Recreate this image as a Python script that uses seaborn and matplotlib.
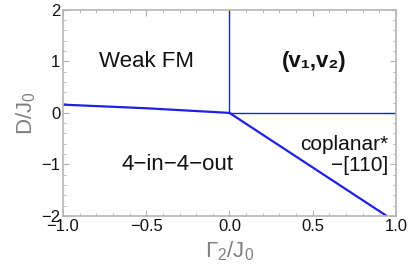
import matplotlib

matplotlib.use('Agg')
import matplotlib.pyplot as plt
import numpy as np
import pandas as pd
import seaborn as sns
from matplotlib.ticker import MultipleLocator

# phase boundaries
left_x = [-1.0, -0.5, 0.0]
left_y = [0.16, 0.09, 0.0]
diag_x = [0.0, 0.944]
diag_y = [0.0, -2.0]
vert_x = [0.0, 0.0]
vert_y = [0.0, 2.0]
horiz_x = [0.0, 1.0]
horiz_y = [0.0, 0.0]

# region labels
labels = ['Weak FM', '(v₁,v₂)', '4\u2212in\u22124\u2212out', 'coplanar*', '\u2212[110]']
label_x = [-0.5, 0.51, -0.31, 0.955, 0.955]
label_y = [1.0, 1.0, -1.0, -0.62, -1.02]

sns.set_style('ticks')
plt.rcParams['font.family'] = ['Liberation Sans', 'DejaVu Sans']
plt.rcParams['mathtext.fontset'] = 'custom'
plt.rcParams['mathtext.rm'] = 'Liberation Sans'
plt.rcParams['mathtext.it'] = 'Liberation Sans'
plt.rcParams['mathtext.default'] = 'regular'

blue = '#1f1fe8'
fig = plt.figure(figsize=(4.09, 2.75), dpi=100)
ax = fig.add_axes([0.154, 0.215, 0.814, 0.749])

segs = [(left_x, left_y, 1.6), (diag_x, diag_y, 1.6),
        (vert_x, vert_y, 1.0), (horiz_x, horiz_y, 1.0)]
for xs, ys, lw in segs:
    d = pd.DataFrame({'x': xs, 'y': ys})
    sns.lineplot(data=d, x='x', y='y', ax=ax, color=blue, lw=lw, sort=False, estimator=None)

for t, x, y in zip(labels, label_x, label_y):
    right = t in ('coplanar*', '\u2212[110]')
    fw = 'bold' if t.startswith('(') else 'normal'
    ax.text(x, y, t, ha='right' if right else 'center', va='center',
            fontsize=15 if right else 16, color='#111111', fontweight=fw)

ax.set_xlim(-1, 1)
ax.set_ylim(-2, 2)
ax.xaxis.set_major_locator(MultipleLocator(0.5))
ax.xaxis.set_minor_locator(MultipleLocator(0.1))
ax.yaxis.set_major_locator(MultipleLocator(1))
ax.yaxis.set_minor_locator(MultipleLocator(0.2))
ax.xaxis.set_major_formatter(plt.FuncFormatter(lambda v, p: f'{v:.1f}'.replace('-', '\u2212')))
ax.yaxis.set_major_formatter(plt.FuncFormatter(lambda v, p: f'{v:.0f}'.replace('-', '\u2212')))

ax.tick_params(which='both', direction='in', top=True, right=True, color='#b0b0b0',
               labelsize=12, labelcolor='#111111', pad=2)
ax.tick_params(which='major', length=4, width=0.8)
ax.tick_params(which='minor', length=2, width=0.6)
for s in ax.spines.values():
    s.set_color('#b5b5b5')
    s.set_linewidth(1.2)

ax.set_xlabel(r'$\Gamma_2/J_0$', fontsize=16, color='#808080', labelpad=4)
ax.set_ylabel(r'$D/J_0$', fontsize=16, color='#808080', labelpad=2)

fig.savefig('out.png', dpi=100)
